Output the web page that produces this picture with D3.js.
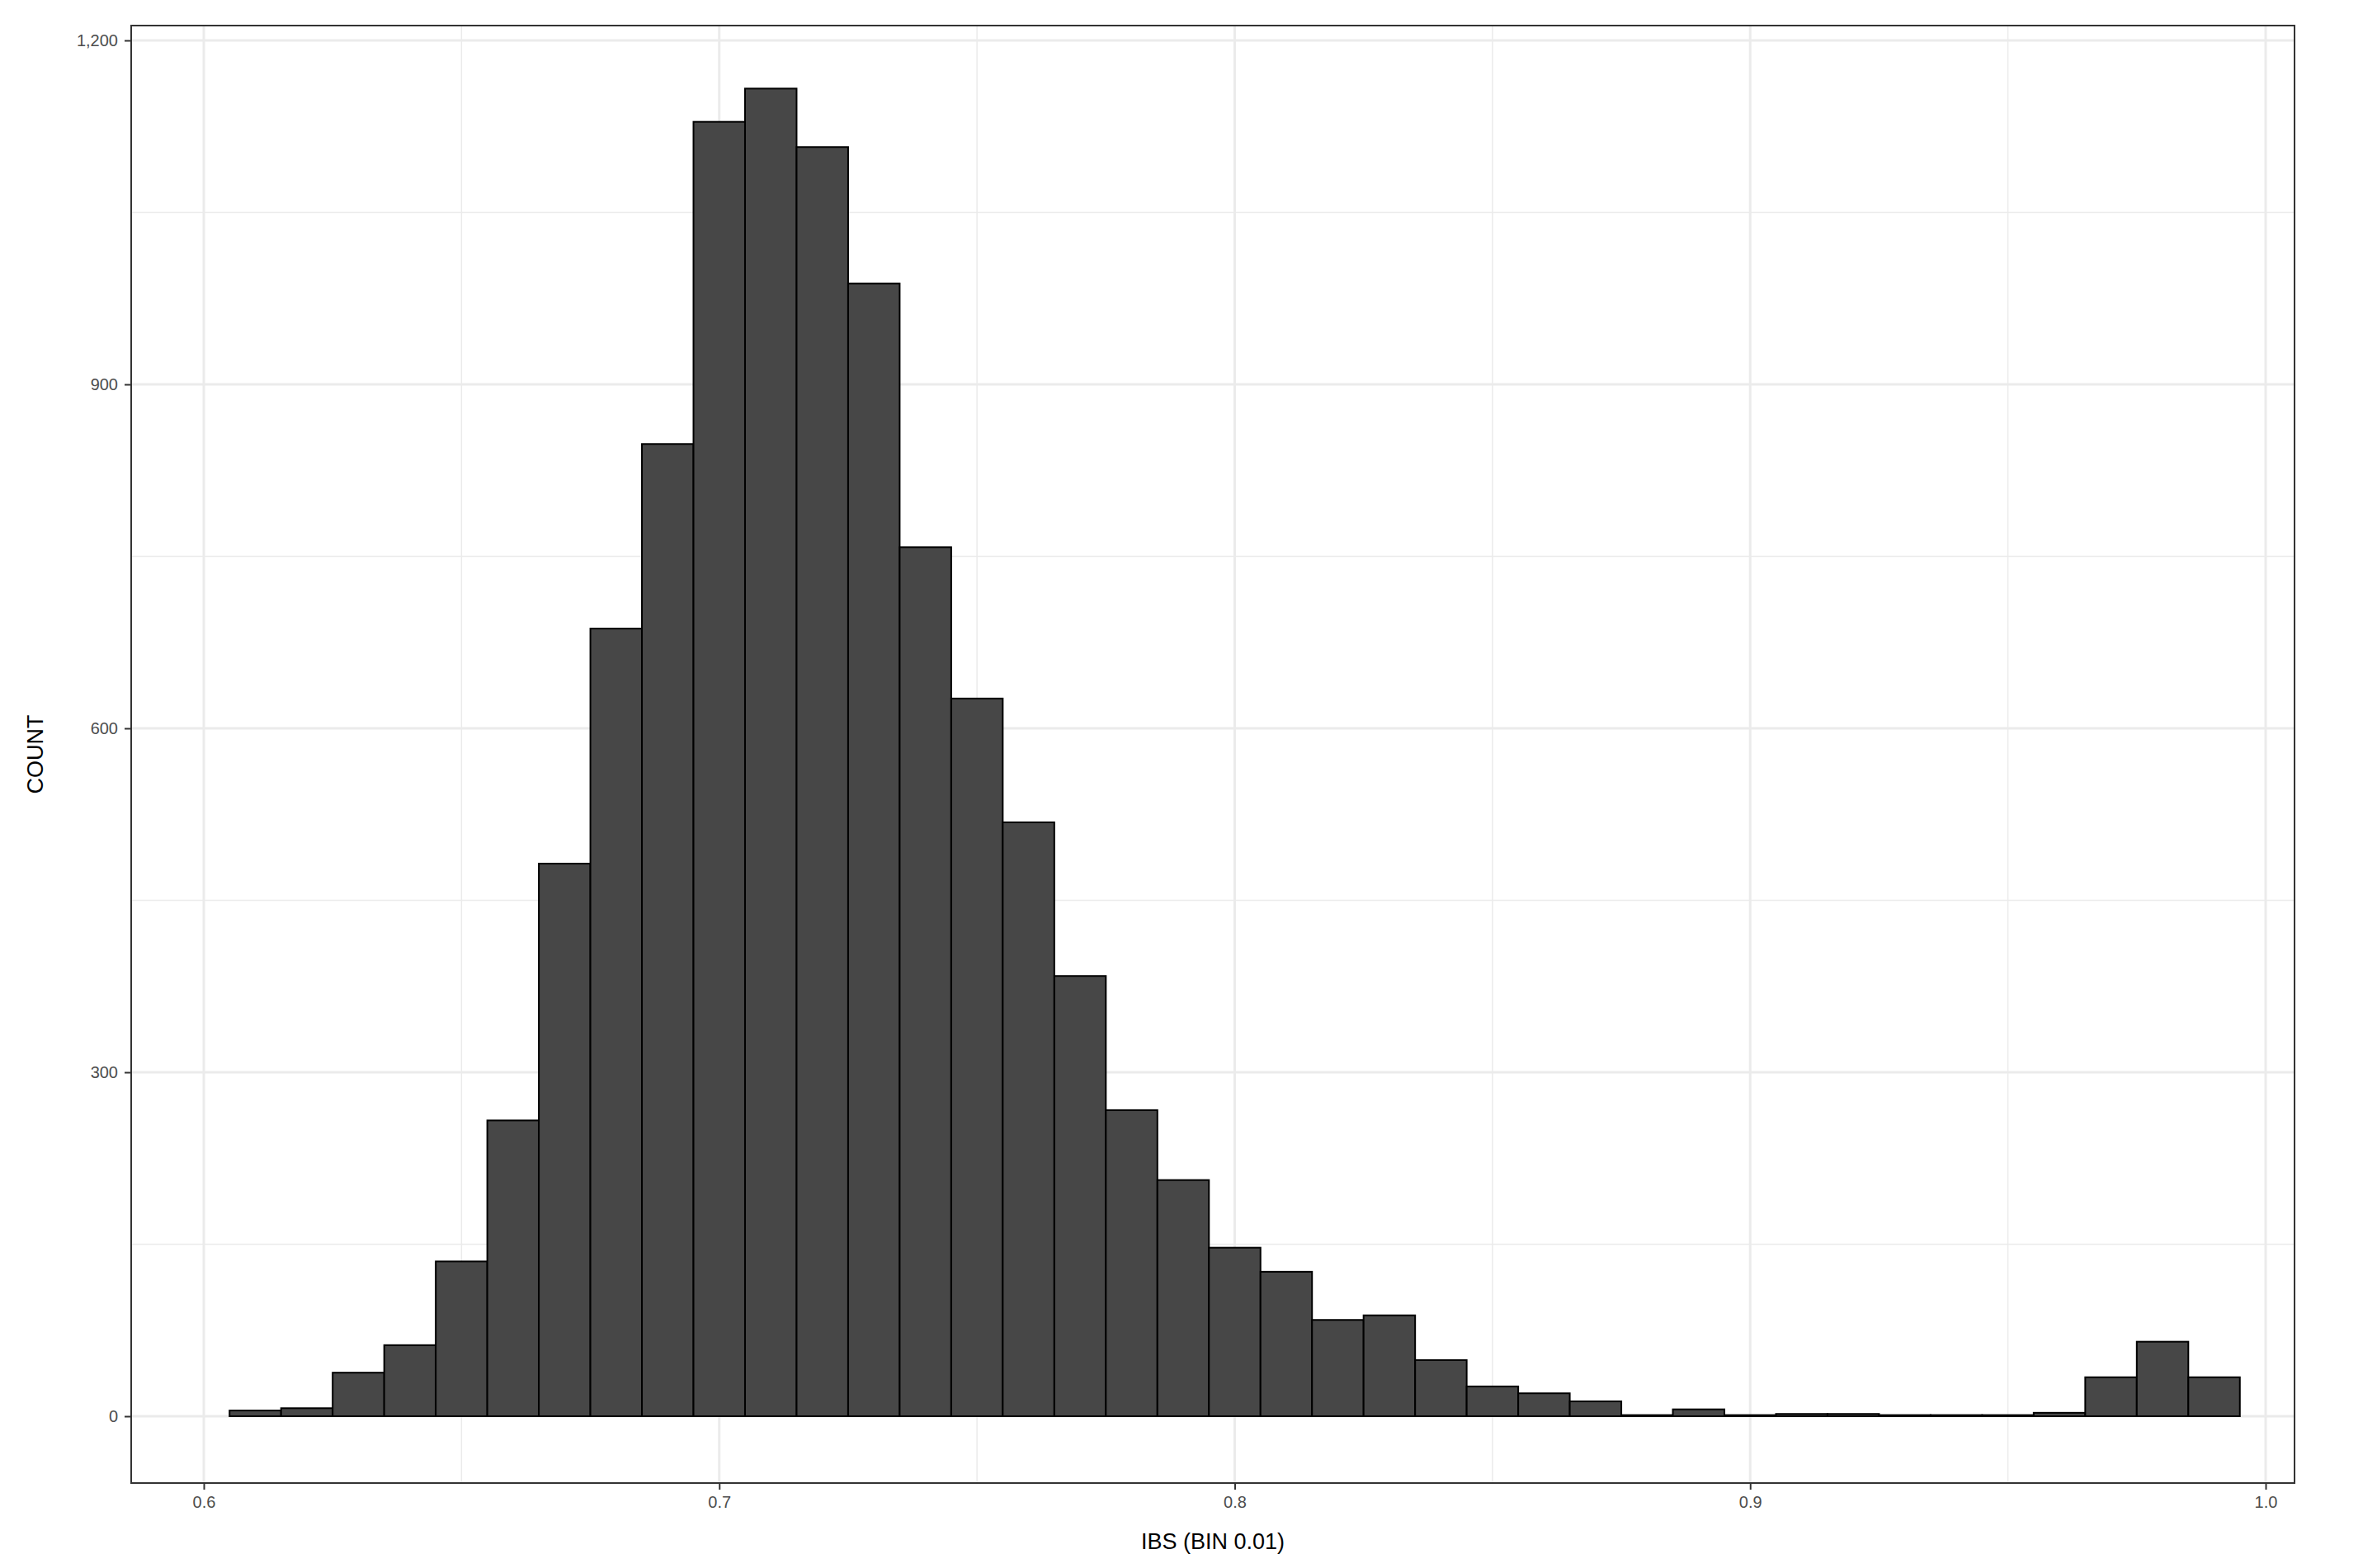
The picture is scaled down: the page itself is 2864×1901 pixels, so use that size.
<!DOCTYPE html>
<html>
<head>
<script src="https://cdnjs.cloudflare.com/ajax/libs/d3/7.8.5/d3.min.js"></script>
<style>
body { margin: 0; background: #fff; }
text { font-family: "Liberation Sans", Arial, sans-serif; }
</style>
</head>
<body>
<script>
// histogram bins (left edge) and counts
const binStarts = [0.605,0.615,0.625,0.635,0.645,0.655,0.665,0.675,0.685,0.695,0.705,0.715,0.725,0.735,0.745,0.755,0.765,0.775,0.785,0.795,0.805,0.815,0.825,0.835,0.845,0.855,0.865,0.875,0.885,0.895,0.905,0.915,0.925,0.935,0.945,0.955,0.965,0.975,0.985];
const counts = [5,7,38,62,135,258,482,687,848,1129,1158,1107,988,758,626,518,384,267,206,147,126,84,88,49,26,20,13,1,6,1,2,2,1,1,1,3,34,65,34];
const xTicks = [0.6,0.7,0.8,0.9,1.0];
const xMinor = [0.65,0.75,0.85,0.95];
const yTicks = [0,300,600,900,1200];
const yMinor = [150,450,750,1050];

const W = 2864, H = 1901;
const L = 159, R = 2781, T = 31, B = 1798;

const x = d3.scaleLinear().domain([0.6, 1.0]).range([247, 2746]);
const y = d3.scaleLinear().domain([0, 1200]).range([1717, 49]);

const svg = d3.select("body").append("svg").attr("width", W).attr("height", H);

// grid
svg.append("g").selectAll("line").data(xMinor).join("line")
    .attr("x1", d => x(d)).attr("x2", d => x(d)).attr("y1", T).attr("y2", B)
    .attr("stroke", "#ebebeb").attr("stroke-width", 1.5);
svg.append("g").selectAll("line").data(yMinor).join("line")
    .attr("x1", L).attr("x2", R).attr("y1", d => y(d)).attr("y2", d => y(d))
    .attr("stroke", "#ebebeb").attr("stroke-width", 1.5);
svg.append("g").selectAll("line").data(xTicks).join("line")
    .attr("x1", d => x(d)).attr("x2", d => x(d)).attr("y1", T).attr("y2", B)
    .attr("stroke", "#ebebeb").attr("stroke-width", 3);
svg.append("g").selectAll("line").data(yTicks).join("line")
    .attr("x1", L).attr("x2", R).attr("y1", d => y(d)).attr("y2", d => y(d))
    .attr("stroke", "#ebebeb").attr("stroke-width", 3);

// bars
svg.append("g").selectAll("rect").data(binStarts).join("rect")
    .attr("x", d => x(d))
    .attr("width", d => x(d + 0.01) - x(d))
    .attr("y", (d, i) => y(counts[i]))
    .attr("height", (d, i) => y(0) - y(counts[i]))
    .attr("fill", "#474747").attr("stroke", "#000").attr("stroke-width", 2);

// panel border
svg.append("rect").attr("x", L).attr("y", T).attr("width", R - L).attr("height", B - T)
    .attr("fill", "none").attr("stroke", "#333").attr("stroke-width", 2);

// axes
const xAxis = svg.append("g").attr("transform", `translate(0,${B})`)
    .call(d3.axisBottom(x).tickValues(xTicks).tickFormat(d3.format(".1f")).tickSize(8).tickPadding(8));
const yAxis = svg.append("g").attr("transform", `translate(${L},0)`)
    .call(d3.axisLeft(y).tickValues(yTicks).tickSize(8).tickPadding(8));
[xAxis, yAxis].forEach(a => {
    a.select(".domain").remove();
    a.selectAll("line").attr("stroke", "#333").attr("stroke-width", 2);
    a.selectAll("text").attr("fill", "#4d4d4d").style("font-size", "20px");
});

svg.append("text").attr("x", (L + R) / 2).attr("y", 1878)
    .attr("text-anchor", "middle").style("font-size", "27px").text("IBS (BIN 0.01)");
svg.append("text").attr("transform", `translate(52,${(T + B) / 2}) rotate(-90)`)
    .attr("text-anchor", "middle").style("font-size", "27px").text("COUNT");
</script>
</body>
</html>
